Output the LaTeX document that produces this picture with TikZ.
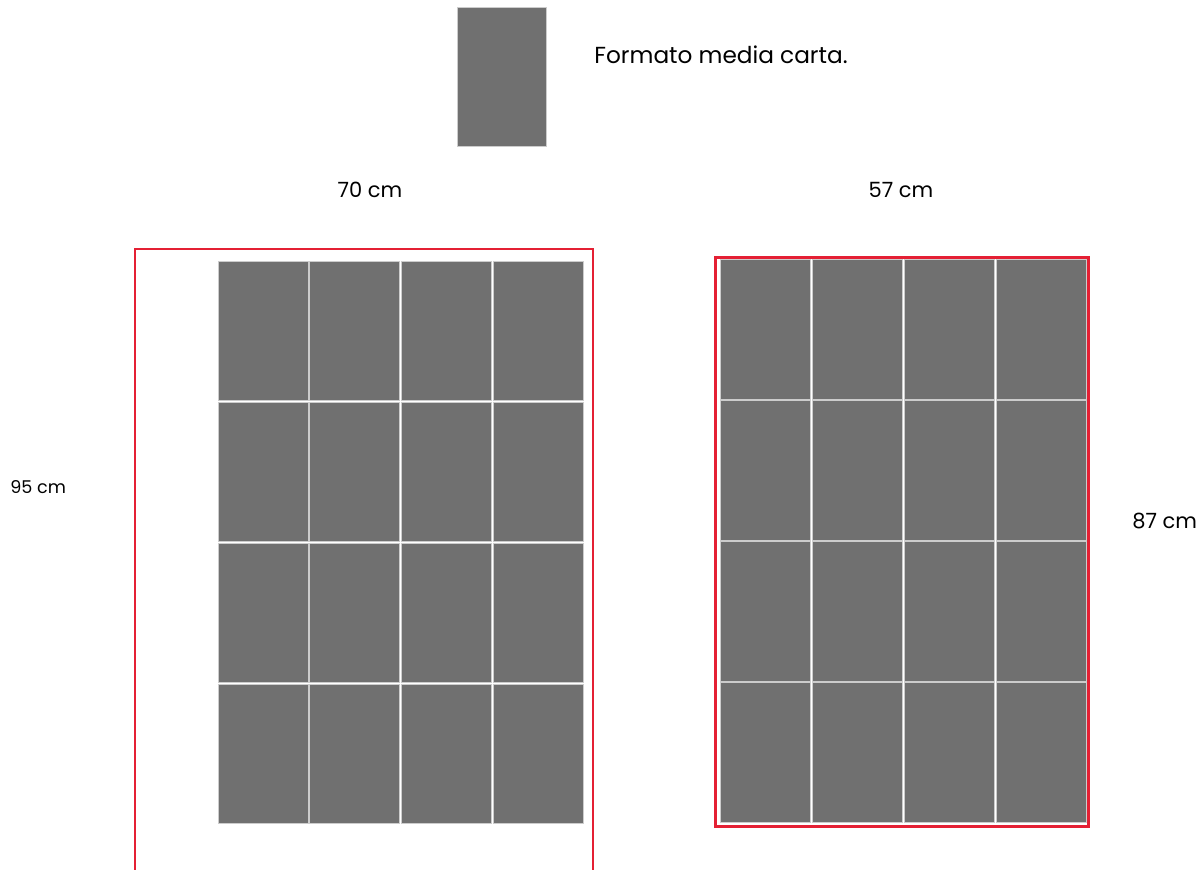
\documentclass[tikz,border=0pt]{standalone}
\usepackage{fontspec}
\setmainfont{Poppins}
\usetikzlibrary{positioning}
\definecolor{sheetgray}{RGB}{112,112,112}
\definecolor{framered}{RGB}{228,32,52}

\begin{document}
\begin{tikzpicture}[x=0.5pt, y=-0.5pt,
    cell/.style={fill=sheetgray, draw=gray!40, line width=0.5pt},
    dimlabel/.style={font=\fontsize{10.5}{12}\selectfont, anchor=base}]
    \useasboundingbox (0,0) rectangle (1202,869);
    % Single sheet
    \filldraw[cell] (457,7) rectangle (546,146);
    \node[anchor=base west, inner sep=0pt, font=\fontsize{11.6}{14}\selectfont] (title) at (594,63) {Formato media carta.};
    % 70 x 95 sheet
    \node[dimlabel] (widthA) at (370,197) {70 cm};
    \node[dimlabel, font=\fontsize{8.8}{11}\selectfont, anchor=base west, inner sep=0pt] (heightA) at (10,493) {95 cm};
    \draw[framered, line width=0.8pt] (135,875) -- (135,249) -- (593,249) -- (593,875);
    \foreach \i in {0,...,3}
        \foreach \j in {0,...,3}
            \filldraw[cell] ({218+91.7*\i},{261+141*\j}) rectangle +(90,139.5);
    % 57 x 87 sheet
    \node[dimlabel] (widthB) at (901,197) {57 cm};
    \node[dimlabel, anchor=base west, inner sep=0pt] (heightB) at (1132,528) {87 cm};
    \draw[framered, line width=1.5pt] (715,257) rectangle (1088,826);
    \foreach \i in {0,...,3}
        \foreach \j in {0,...,3}
            \filldraw[cell] ({720+92*\i},{259+141.3*\j}) rectangle +(90,140);
\end{tikzpicture}
\end{document}
